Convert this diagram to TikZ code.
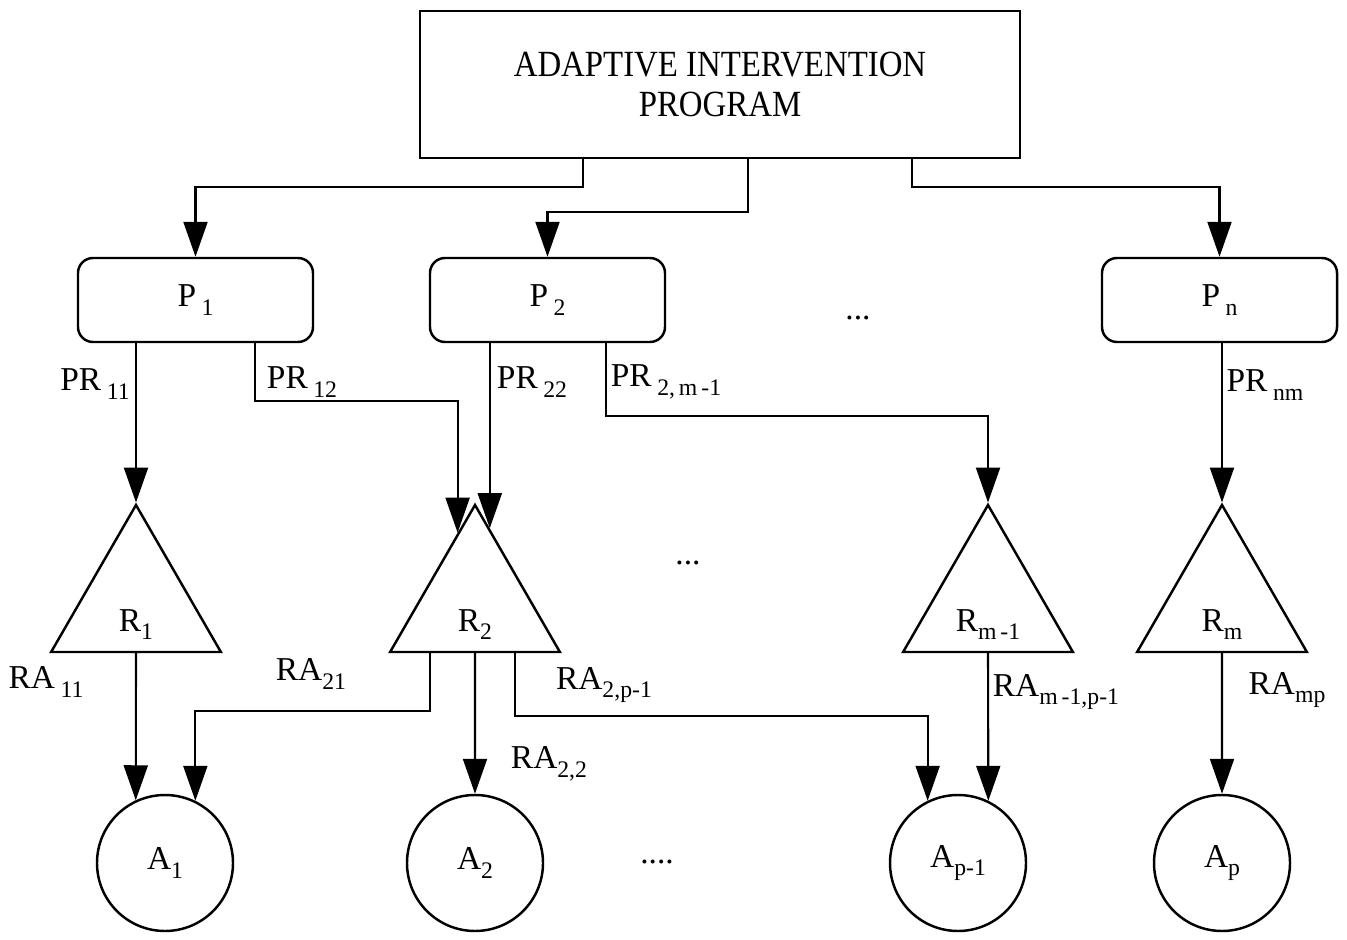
\documentclass[tikz,border=0pt]{standalone}
\usepackage{fontspec}
\setmainfont{Liberation Serif}
\newfontfamily\progfont{Liberation Serif}[FakeStretch=0.89]
\usetikzlibrary{arrows.meta,positioning,calc,shapes.geometric}
\tikzset{
  prog/.style={draw,line width=1.4pt,minimum width=120mm,minimum height=29.4mm,
               align=center,inner sep=0pt,font=\progfont\fontsize{21}{22.9}\selectfont},
  pbox/.style={draw,line width=1.4pt,rounded corners=3mm,minimum width=47mm,
               minimum height=16.8mm,inner sep=0pt},
  rtri/.style={draw,line width=1.4pt,regular polygon,regular polygon sides=3,
               minimum size=39.2mm,inner sep=0pt},
  acirc/.style={draw,line width=1.4pt,circle,minimum size=27.2mm,inner sep=0pt},
  ar/.style ={-{Triangle[length=7mm,width=4.8mm]},line width=1.2pt},
  lbl/.style={inner sep=0pt},
}
\newcommand{\sbs}[1]{\raisebox{-5pt}{\fontsize{13.5}{15}\selectfont #1}}
\newcommand{\low}[1]{\raisebox{-5.6mm}[0pt][0pt]{#1}}

\begin{document}
\begin{tikzpicture}[x=0.2mm,y=-0.2mm,font=\fontsize{19}{23}\selectfont]
  \useasboundingbox (0,0) rectangle (1347,940);
  % program and policies
  \node[prog] (top) at (720,84.5) {ADAPTIVE INTERVENTION\\PROGRAM};
  \node[pbox] (P1) at (195.5,300) {P\,\sbs{1}};
  \node[pbox] (P2) at (547.5,300) {P\,\sbs{2}};
  \node[pbox] (Pn) at (1219.5,300) {P\,\sbs{n}};
  \node[lbl] (pdots) at (858,318) {...};
  % rules
  \node[rtri] (R1)  at (136,603)  {\low{R\sbs{1}}};
  \node[rtri] (R2)  at (475,603)  {\low{R\sbs{2}}};
  \node[rtri] (Rm1) at (988,603)  {\low{R\sbs{m\,-1}}};
  \node[rtri] (Rm)  at (1222,603) {\low{R\sbs{m}}};
  \node[lbl] (rdots) at (688,563) {...};
  % actions
  \node[acirc] (A1)  at (165,863)  {A\sbs{1}};
  \node[acirc] (A2)  at (475,863)  {A\sbs{2}};
  \node[acirc] (Ap1) at (958,863)  {A\sbs{p-1}};
  \node[acirc] (Ap)  at (1222,863) {A\sbs{p}};
  \node[lbl] (adots) at (657,862) {....};

  \coordinate (inL) at ($(R2.corner 1)!0.2!(R2.corner 2)$);
  \coordinate (inR) at ($(R2.corner 1)!0.17!(R2.corner 3)$);

  \draw[ar] ([xshift=-27.4mm]top.south) -- ++(0,28) -| (P1.north);
  \draw[ar] ([xshift=5.6mm]top.south) -- ++(0,53) -| (P2.north);
  \draw[ar] ([xshift=38.4mm]top.south) -- ++(0,28) -| (Pn.north);

  \draw[ar] (R1.corner 1 |- P1.south) -- (R1.corner 1);
  \draw[ar] ([xshift=11.9mm]P1.south) -- ++(0,58) -| (inL);
  \draw[ar] (inR |- P2.south) -- (inR);
  \draw[ar] ([xshift=11.7mm]P2.south) -- ++(0,73) -| (Rm1.corner 1);
  \draw[ar] (Rm.corner 1 |- Pn.south) -- (Rm.corner 1);

  \draw[ar] (R1.south) -- (A1.115);
  \draw[ar] ([xshift=-9mm]R2.south) -- ++(0,58) -| (A1.64);
  \draw[ar] (R2.south) -- (A2.north);
  \draw[ar] ([xshift=8mm]R2.south) -- ++(0,63) -| (Ap1.116);
  \draw[ar] (Rm1.south) -- (Ap1.64);
  \draw[ar] (Rm.south) -- (Ap.north);

  % connector labels
  \node[lbl] (l11) at (95,384)  {PR\,\sbs{11}};
  \node[lbl] (l12) at (302,382) {PR\,\sbs{12}};
  \node[lbl] (l22) at (532,382) {PR\,\sbs{22}};
  \node[lbl] (l2m) at (666,382) {PR\,\sbs{2,\,m\,-1}};
  \node[lbl] (lnm) at (1265,385) {PR\,\sbs{nm}};
  \node[lbl] (k11) at (46,682)  {RA\,\sbs{11}};
  \node[lbl] (k21) at (311,674) {RA\sbs{21}};
  \node[lbl] (k2p) at (604,685) {RA\sbs{2,p-1}};
  \node[lbl] (k22) at (549,764) {RA\sbs{2,2}};
  \node[lbl] (kmp1) at (1056,692) {RA\sbs{m\,-1,p-1}};
  \node[lbl] (kmp) at (1287,690) {RA\sbs{mp}};
\end{tikzpicture}
\end{document}
